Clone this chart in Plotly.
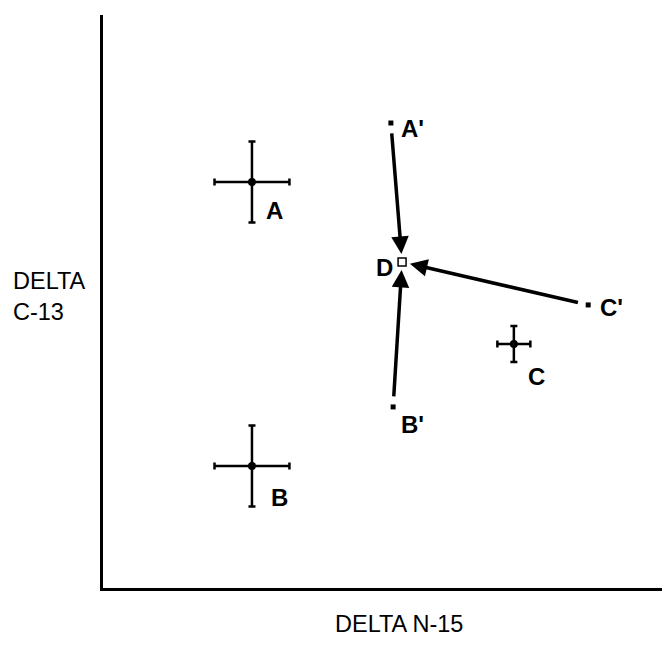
import plotly.graph_objects as go

# Points with error bars (delta N-15 on x, delta C-13 on y, arbitrary units)
err_names = ["A", "B", "C"]
err_x = [26.65, 26.65, 73.5]
err_y = [70.85, 21.29, 42.6]
err_dx = [6.7, 6.7, 2.95]
err_dy = [7.07, 7.07, 3.14]

# Source points (primes) that move toward D
src_names = ["A'", "B'", "C'"]
src_x = [51.5, 51.9, 86.8]
src_y = [81.15, 31.6, 49.4]

# Destination point
dest_names = ["D"]
dest_x = [53.5]
dest_y = [56.9]

x_title = "DELTA N-15"
y_title = "DELTA<br>C-13"

# label offsets in pixels (dx, dy up positive)
label_shift = {
    "A": (23, -28), "B": (28, -31), "C": (23, -33),
    "A'": (22, -5), "B'": (19, -18), "C'": (23, -3), "D": (-18, -6),
}

fig = go.Figure()

fig.add_trace(go.Scatter(
    x=err_x, y=err_y, mode="markers",
    marker=dict(color="black", size=8, symbol="circle"),
    error_x=dict(type="data", array=err_dx, color="black", thickness=2.5, width=3.5),
    error_y=dict(type="data", array=err_dy, color="black", thickness=2.5, width=3.5),
    showlegend=False, hoverinfo="skip",
))

fig.add_trace(go.Scatter(
    x=src_x, y=src_y, mode="markers",
    marker=dict(color="black", size=5, symbol="square"),
    showlegend=False, hoverinfo="skip",
))

fig.add_trace(go.Scatter(
    x=dest_x, y=dest_y, mode="markers",
    marker=dict(color="white", size=8, symbol="square", line=dict(color="black", width=1.5)),
    showlegend=False, hoverinfo="skip",
))

annotations = []
for sx, sy in zip(src_x, src_y):
    annotations.append(dict(
        x=dest_x[0], y=dest_y[0], ax=sx, ay=sy, xref="x", yref="y", axref="x", ayref="y",
        showarrow=True, arrowhead=2, arrowsize=1.0, arrowwidth=3.5, arrowcolor="black",
        standoff=8, startstandoff=9, text="",
    ))

label_font = dict(family="Liberation Sans, Arial, sans-serif", size=24, color="black")
for names, xs, ys in [(err_names, err_x, err_y), (src_names, src_x, src_y), (dest_names, dest_x, dest_y)]:
    for n, x, y in zip(names, xs, ys):
        dx, dy = label_shift[n]
        annotations.append(dict(
            x=x, y=y, xref="x", yref="y", text="<b>%s</b>" % n, showarrow=False,
            xshift=dx, yshift=dy, font=label_font, xanchor="center", yanchor="middle",
        ))

title_font = dict(family="Liberation Sans, Arial, sans-serif", size=23.5, color="black")
annotations.append(dict(
    x=0.5295, y=-0.0628, xref="paper", yref="paper", text=x_title, showarrow=False,
    xanchor="center", yanchor="middle", font=title_font,
))
annotations.append(dict(
    x=-0.1646, y=0.5087, xref="paper", yref="paper", text=y_title, showarrow=False,
    xanchor="left", yanchor="middle", align="left", font=title_font,
))

axis_common = dict(
    range=[0, 100], showline=True, linecolor="black", linewidth=3,
    showgrid=False, zeroline=False, showticklabels=False, ticks="", fixedrange=True,
)

fig.update_layout(
    width=662, height=647,
    margin=dict(l=103, r=0, t=15, b=59),
    paper_bgcolor="white", plot_bgcolor="white",
    xaxis=axis_common, yaxis=axis_common,
    annotations=annotations,
)

fig.write_html("out.html")
